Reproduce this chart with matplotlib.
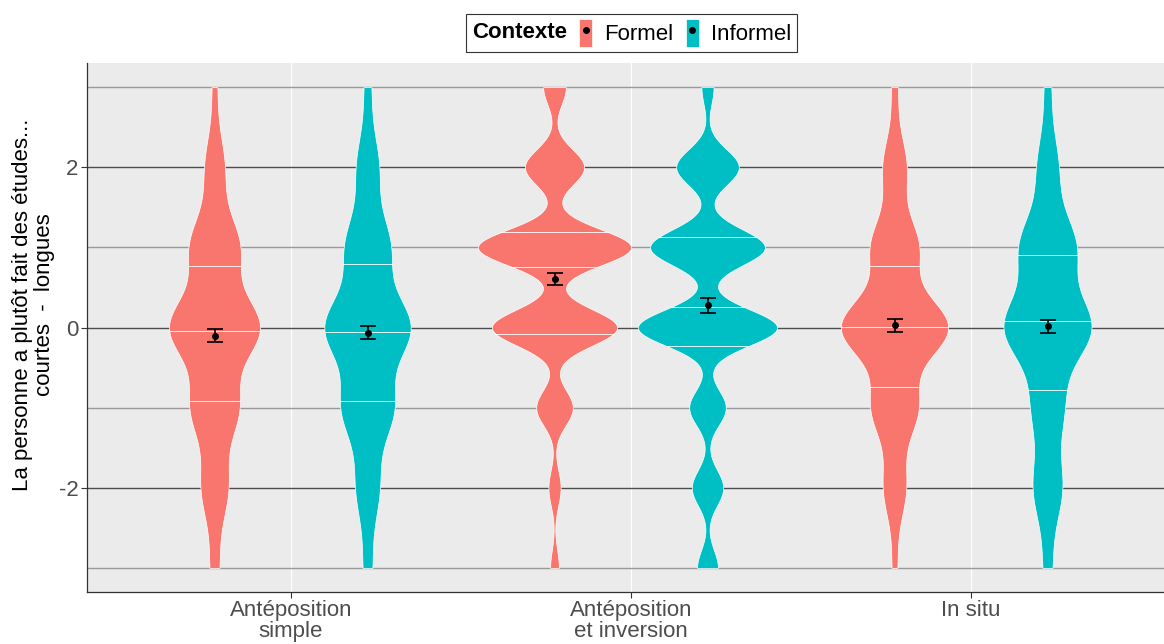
import numpy as np
import matplotlib.pyplot as plt
from matplotlib.patches import Patch
from matplotlib.lines import Line2D
from matplotlib.legend_handler import HandlerTuple
from matplotlib.offsetbox import HPacker

plt.rcParams['font.family'] = ['Liberation Sans', 'DejaVu Sans']

#DATA
categories = ["Antéposition\nsimple", "Antéposition\net inversion", "In situ"]
contexts = ["Formel", "Informel"]
colors = ["#F8766D", "#00BFC4"]
#answers on the scale from -3 (courtes) to 3 (longues)
scale_values = [-3, -2, -1, 0, 1, 2, 3]
#number of answers at each scale value, one row per category
formel_counts = [
    [9, 26, 46, 87, 48, 19, 5],
    [5, 7, 21, 72, 88, 34, 13],
    [5, 21, 43, 99, 44, 22, 6],
]
informel_counts = [
    [9, 23, 51, 84, 44, 22, 7],
    [12, 18, 21, 80, 66, 36, 7],
    [9, 29, 31, 87, 56, 21, 7],
]
ylabel = "La personne a plutôt fait des études...\ncourtes  -  longues"


def nrd0(x):
    #same bandwidth rule as R density() default
    sd = np.std(x, ddof=1)
    q1, q3 = np.percentile(x, [25, 75])
    lo = min(sd, (q3 - q1) / 1.34)
    return 0.9 * lo * len(x) ** -0.2


def violin_density(x):
    #gaussian kde evaluated between min and max (trimmed like ggplot)
    bw = nrd0(x)
    ys = np.linspace(x.min(), x.max(), 512)
    z = (ys[:, None] - x[None, :]) / bw
    dens = np.exp(-0.5 * z ** 2).sum(axis=1) / (len(x) * bw * np.sqrt(2 * np.pi))
    return ys, dens


#build raw answers for every group
groups = []
for i in range(len(categories)):
    for j, counts in enumerate([formel_counts, informel_counts]):
        x = np.repeat(scale_values, counts[i]).astype(float)
        ys, dens = violin_density(x)
        groups.append((i, j, x, ys, dens))

max_dens = max(g[4].max() for g in groups)

fig = plt.figure(figsize=(11.64, 6.44), dpi=100)
ax = fig.add_axes([87 / 1164, 1 - 592 / 644, 1088 / 1164, 529 / 644])
ax.set_facecolor('#EBEBEB')

dodge = 0.225
for i, j, x, ys, dens in groups:
    pos = i + 1 + (-dodge if j == 0 else dodge)
    half = dodge * dens / max_dens
    ax.fill_betweenx(ys, pos - half, pos + half, facecolor=colors[j],
                     edgecolor='white', linewidth=0.5, zorder=2)
    #quantile lines from the density
    cdf = np.cumsum(dens)
    cdf = cdf / cdf[-1]
    for q in [0.25, 0.5, 0.75]:
        yq = np.interp(q, cdf, ys)
        w = np.interp(yq, ys, half)
        ax.plot([pos - w, pos + w], [yq, yq], color='white', linewidth=0.6, zorder=3)
    #mean and standard error
    mean = x.mean()
    se = x.std(ddof=1) / np.sqrt(len(x))
    ax.errorbar(pos, mean, yerr=se, fmt='o', color='black', markersize=4,
                capsize=6, elinewidth=1.2, capthick=1.2, zorder=4)

#axes
ax.set_xlim(0.4, 3.6)
ax.set_ylim(-3.3, 3.3)
ax.set_xticks([1, 2, 3])
ax.set_xticklabels(categories, fontsize=16, color='#4D4D4D', linespacing=0.95)
ax.set_yticks([-2, 0, 2])
ax.set_yticklabels(["-2", "0", "2"], fontsize=16, color='#4D4D4D')
ax.set_yticks([-3, -1, 1, 3], minor=True)
ax.tick_params(which='major', length=4, width=0.8, color='#333333', pad=2)
ax.tick_params(which='minor', length=0)

ax.yaxis.grid(True, which='major', color='#4D4D4D', linewidth=1.0)
ax.yaxis.grid(True, which='minor', color='#999999', linewidth=1.0)
ax.xaxis.grid(True, which='major', color='white', linewidth=0.8)
ax.set_axisbelow(True)

for side in ['top', 'right']:
    ax.spines[side].set_visible(False)
for side in ['left', 'bottom']:
    ax.spines[side].set_color('#333333')
    ax.spines[side].set_linewidth(0.9)

ax.set_ylabel(ylabel, fontsize=16, color='black', linespacing=1.1)
ax.yaxis.set_label_coords(-0.029, 0.5425)

#legend on top with title to the left
handles = [(Patch(facecolor=c, edgecolor='white', linewidth=0.5),
            Line2D([], [], marker='o', linestyle='none', color='black', markersize=4))
           for c in colors]
leg = fig.legend(handles=handles, labels=contexts, handler_map={tuple: HandlerTuple(ndivide=1)},
                 title='Contexte', ncol=2, loc='center', bbox_to_anchor=(631.5 / 1164, 1 - 33 / 644),
                 fontsize=16, title_fontsize=16, frameon=True, fancybox=False,
                 edgecolor='#333333', framealpha=1, handlelength=0.55, handleheight=1.55,
                 handletextpad=0.55, columnspacing=0.6, borderpad=0.25)
leg.get_frame().set_linewidth(0.8)
leg.get_title().set_fontweight('bold')
leg._legend_box.__class__ = HPacker
leg._legend_box.sep = 9

fig.savefig('out.png', dpi=100)
